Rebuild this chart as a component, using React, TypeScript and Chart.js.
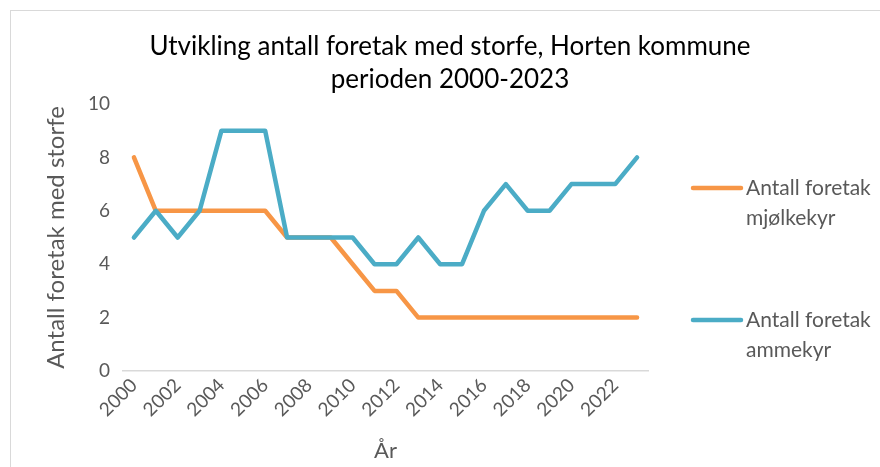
import React, { useEffect, useRef } from "react";
import { Chart, registerables } from "chart.js";

Chart.register(...registerables);

const years = [
  "2000", "2001", "2002", "2003", "2004", "2005", "2006", "2007", "2008", "2009", "2010", "2011",
  "2012", "2013", "2014", "2015", "2016", "2017", "2018", "2019", "2020", "2021", "2022", "2023",
];
const mjolkekyr = [8, 6, 6, 6, 6, 6, 6, 5, 5, 5, 4, 3, 3, 2, 2, 2, 2, 2, 2, 2, 2, 2, 2, 2];
const ammekyr = [5, 6, 5, 6, 9, 9, 9, 5, 5, 5, 5, 4, 4, 5, 4, 4, 6, 7, 6, 6, 7, 7, 7, 8];
const seriesNames = [["Antall foretak", "mjølkekyr"], ["Antall foretak", "ammekyr"]];
const titleLines = ["Utvikling antall foretak med storfe, Horten kommune", "perioden 2000-2023"];
const yTitle = "Antall foretak med storfe";
const xTitle = "År";

const ORANGE = "#F79646";
const BLUE = "#4BACC6";
const GREY = "#595959";
const FONT = "Lato, 'Open Sans', sans-serif";

export default function App() {
  const ref = useRef<HTMLCanvasElement | null>(null);

  useEffect(() => {
    if (!ref.current) return;
    const overlay = {
      id: "overlay",
      afterDraw(chart: any) {
        const ctx = chart.ctx;
        ctx.save();
        // title
        ctx.fillStyle = "#000";
        ctx.font = `26px ${FONT}`;
        ctx.textAlign = "center";
        ctx.textBaseline = "middle";
        ctx.fillText(titleLines[0], 450, 47);
        ctx.fillText(titleLines[1], 450, 80);
        // legend
        const items = [
          { color: ORANGE, y: 188 },
          { color: BLUE, y: 320 },
        ];
        items.forEach((it, i) => {
          ctx.strokeStyle = it.color;
          ctx.lineWidth = 4.5;
          ctx.lineCap = "round";
          ctx.beginPath();
          ctx.moveTo(693, it.y);
          ctx.lineTo(741, it.y);
          ctx.stroke();
          ctx.fillStyle = GREY;
          ctx.font = `21px ${FONT}`;
          ctx.textAlign = "left";
          ctx.textBaseline = "middle";
          ctx.fillText(seriesNames[i][0], 746, it.y);
          ctx.fillText(seriesNames[i][1], 746, it.y + 30);
        });
        ctx.restore();
      },
    };

    const chart = new Chart(ref.current, {
      type: "line",
      data: {
        labels: years,
        datasets: [
          {
            label: seriesNames[0].join(" "),
            data: mjolkekyr,
            borderColor: ORANGE,
            backgroundColor: ORANGE,
            borderWidth: 4.5,
            pointRadius: 0,
            tension: 0,
            borderJoinStyle: "round",
            borderCapStyle: "round",
            order: 1,
          },
          {
            label: seriesNames[1].join(" "),
            data: ammekyr,
            borderColor: BLUE,
            backgroundColor: BLUE,
            borderWidth: 4.5,
            pointRadius: 0,
            tension: 0,
            borderJoinStyle: "round",
            borderCapStyle: "round",
            order: 0,
          },
        ],
      },
      options: {
        animation: false,
        responsive: false,
        maintainAspectRatio: false,
        layout: { padding: { left: 0, right: 232, top: 104, bottom: 0 } },
        plugins: {
          legend: { display: false },
          title: { display: false },
          tooltip: { enabled: false },
        },
        scales: {
          x: {
            type: "category",
            offset: true,
            afterFit: (s: any) => {
              s.height = 96;
            },
            grid: { display: false, drawTicks: false },
            border: { display: true, color: "#d9d9d9", width: 1.5 },
            ticks: {
              autoSkip: false,
              maxRotation: 45,
              minRotation: 45,
              padding: 3,
              color: GREY,
              font: { family: FONT, size: 19 },
              callback: function (this: any, _v: any, i: number) {
                return i % 2 === 0 ? years[i] : "";
              },
            },
            title: {
              display: true,
              text: xTitle,
              color: GREY,
              font: { family: FONT, size: 22 },
              padding: { top: 0, bottom: 3 },
            },
          },
          y: {
            min: 0,
            max: 10,
            afterFit: (s: any) => {
              s.width = 123;
            },
            grid: { display: false, drawTicks: false },
            border: { display: false },
            ticks: {
              stepSize: 2,
              padding: 13,
              color: GREY,
              font: { family: FONT, size: 19 },
            },
            title: {
              display: true,
              text: yTitle,
              color: GREY,
              font: { family: FONT, size: 24 },
              padding: { top: 42, bottom: 0 },
            },
          },
        },
      },
      plugins: [overlay],
    } as any);
    return () => chart.destroy();
  }, []);

  return (
    <div style={{ position: "absolute", left: 0, top: 0, width: 880, height: 467, overflow: "hidden", background: "#fff" }}>
      <div
        style={{
          position: "absolute",
          left: 10,
          top: 10,
          width: 880,
          height: 470,
          borderTop: "1px solid #d9d9d9",
          borderLeft: "1px solid #d9d9d9",
          boxSizing: "border-box",
        }}
      />
      <canvas ref={ref} width={880} height={467} style={{ position: "absolute", left: 0, top: 0, display: "block" }} />
    </div>
  );
}
